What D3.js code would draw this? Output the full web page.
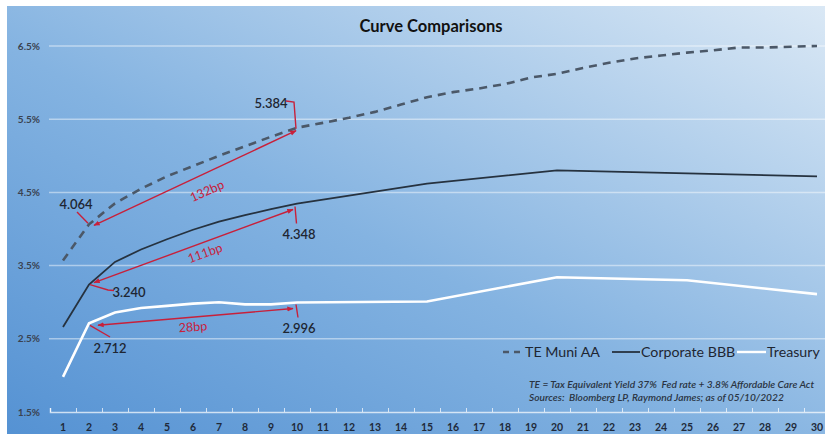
<!DOCTYPE html>
<html><head><meta charset="utf-8">
<script src="https://cdn.jsdelivr.net/npm/d3@7/dist/d3.min.js"></script>
<style>
html,body{margin:0;padding:0;background:#fff;}
svg{display:block;font-family:Lato,"Open Sans",sans-serif;}
</style></head>
<body>
<svg id="chart" width="825" height="438"></svg>
<script>
// ---- data ----
const years = [1,2,3,4,5,6,7,8,9,10,11,12,13,14,15,16,17,18,19,20,21,22,23,24,25,26,27,28,29,30];
const muniYears = years;
const muniValues = [3.57,4.064,4.35,4.55,4.72,4.86,5.00,5.13,5.26,5.384,5.45,5.52,5.60,5.70,5.80,5.87,5.92,5.98,6.07,6.12,6.20,6.27,6.33,6.37,6.41,6.44,6.48,6.48,6.49,6.50];
const corpYears = [1,2,3,4,5,6,7,8,9,10,15,20,25,30];
const corpValues = [2.66,3.240,3.55,3.72,3.86,3.99,4.10,4.19,4.27,4.348,4.62,4.80,4.76,4.72];
const tsyYears = [1,2,3,4,5,6,7,8,9,10,15,20,25,30];
const tsyValues = [1.98,2.712,2.86,2.92,2.95,2.98,3.00,2.97,2.97,2.996,3.01,3.34,3.30,3.11];
const yTicks = [1.5,2.5,3.5,4.5,5.5,6.5];
const seriesNames = ["TE Muni AA","Corporate BBB","Treasury"];
const spreadLabels = ["132bp","111bp","28bp"];
const footnotes = ["TE = Tax Equivalent Yield 37%  Fed rate + 3.8% Affordable Care Act",
                   "Sources:  Bloomberg LP, Raymond James; as of 05/10/2022"];
const title = "Curve Comparisons";

// ---- drawing ----
const svg = d3.select("#chart");
const W = 825, H = 438;
const defs = svg.append("defs");
const grad = defs.append("linearGradient").attr("id","bg")
  .attr("x1","0%").attr("y1","100%").attr("x2","100%").attr("y2","0%");
grad.append("stop").attr("offset","0%").attr("stop-color","#5592d3");
grad.append("stop").attr("offset","45%").attr("stop-color","#84b3e1");
grad.append("stop").attr("offset","100%").attr("stop-color","#dae8f5");

const red = "#c8203a";
const mk = (id, orient) => {
  defs.append("marker").attr("id",id).attr("viewBox","0 0 10 10")
    .attr("refX",9).attr("refY",5).attr("markerWidth",4.5).attr("markerHeight",4.5)
    .attr("orient",orient).attr("markerUnits","strokeWidth")
    .append("path").attr("d","M0,1 L10,5 L0,9 Z").attr("fill",red);
};
mk("arrEnd","auto"); mk("arrStart","auto-start-reverse");

svg.append("rect").attr("x",7).attr("y",6).attr("width",W-7).attr("height",428).attr("fill","url(#bg)");

const x = d3.scaleLinear().domain([0.5,30.5]).range([50,830]);
const y = d3.scaleLinear().domain([1.5,6.5]).range([412,46]);

// gridlines
svg.append("g").selectAll("line").data(yTicks.slice(1)).join("line")
  .attr("x1",49).attr("x2",W).attr("y1",d=>y(d)).attr("y2",d=>y(d))
  .attr("stroke","#ffffff").attr("stroke-opacity",0.45).attr("stroke-width",1.5);

// y labels
svg.append("g").selectAll("text").data(yTicks).join("text")
  .attr("x",40).attr("y",d=>y(d)+3.5).attr("text-anchor","end")
  .attr("font-size",10).attr("font-weight",700).attr("fill","#3a4250")
  .text(d=>d.toFixed(1)+"%");

// x axis
const xAxis = svg.append("g").attr("transform",`translate(0,${y(1.5)})`)
  .call(d3.axisTop(x).tickValues(d3.range(0.5,30.6,1)).tickSize(4).tickFormat(""));
xAxis.select(".domain").attr("stroke","#ffffff").attr("stroke-opacity",0.7).attr("stroke-width",1.5);
xAxis.selectAll(".tick line").attr("stroke","#ffffff").attr("stroke-opacity",0.7);
svg.append("g").selectAll("text").data(years).join("text")
  .attr("x",d=>x(d)).attr("y",431).attr("text-anchor","middle")
  .attr("font-size",10.5).attr("font-weight",700).attr("fill","#1f2a3a").text(d=>d);

// title
svg.append("text").attr("x",431).attr("y",32).attr("text-anchor","middle")
  .attr("font-size",16.5).attr("font-weight",700).attr("fill","#111").text(title);

// lines
const line = d3.line().x(d=>x(d[0])).y(d=>y(d[1]));
svg.append("path").datum(muniYears.map((d,i)=>[d,muniValues[i]])).attr("d",line)
  .attr("fill","none").attr("stroke","#4b5868").attr("stroke-width",2.6).attr("stroke-dasharray","8,6");
svg.append("path").datum(corpYears.map((d,i)=>[d,corpValues[i]])).attr("d",line)
  .attr("fill","none").attr("stroke","#26323f").attr("stroke-width",1.8);
svg.append("path").datum(tsyYears.map((d,i)=>[d,tsyValues[i]])).attr("d",line)
  .attr("fill","none").attr("stroke","#ffffff").attr("stroke-width",2.6);

// annotations
const ann = svg.append("g");
function arrow(x1,y1,x2,y2){
  ann.append("line").attr("x1",x1).attr("y1",y1).attr("x2",x2).attr("y2",y2)
    .attr("stroke",red).attr("stroke-width",1.4)
    .attr("marker-end","url(#arrEnd)").attr("marker-start","url(#arrStart)");
}
function lbl(t,cx,cy,rot){
  ann.append("text").attr("transform",`translate(${cx},${cy}) rotate(${rot})`)
    .attr("text-anchor","middle").attr("dy","0.35em").attr("font-size",12.5)
    .attr("fill",red).text(t);
}
function valTxt(v,cx,cy){
  ann.append("text").attr("x",cx).attr("y",cy).attr("text-anchor","middle").attr("dy","0.35em")
    .attr("font-size",13).attr("font-weight",600).attr("fill","#1e2632").text(v.toFixed(3));
}
function leader(pts){
  ann.append("polyline").attr("points",pts.map(p=>p.join(",")).join(" "))
    .attr("fill","none").attr("stroke",red).attr("stroke-width",1.4);
}
const m2 = muniValues[1], m10 = muniValues[9];
const c2 = corpValues[1], c10 = corpValues[9];
const t2 = tsyValues[1], t10 = tsyValues[9];

// 132bp
arrow(x(2)+5, y(m2)+1, x(10)-1, y(m10)+3);
lbl(spreadLabels[0], 207, 191, -24);
valTxt(m2, 76, 204);
leader([[77,212],[x(2)-1,y(m2)-1]]);
valTxt(m10, 271, 103);
leader([[286,101],[x(10)-3,102],[x(10)-1,y(m10)+1]]);

// 111bp
arrow(x(2)+5, y(c2)-2, x(10)-4, y(c10)+6);
lbl(spreadLabels[1], 205, 253, -20);
valTxt(c2, 129, 292);
leader([[x(2)+1,y(c2)],[108,290],[114,290.5]]);
valTxt(c10, 299, 234);
leader([[x(10)-2,y(c10)+3],[x(10)-0.5,y(c10)+20]]);

// 28bp
arrow(x(2)+9, y(t2)+2, x(10)-4, y(t10)+6);
lbl(spreadLabels[2], 193, 327, -4);
valTxt(t2, 110, 348);
leader([[x(2)+1,y(t2)+2],[110,337]]);
valTxt(t10, 299, 328);
leader([[x(10)-1,y(t10)+2],[x(10)+1,y(t10)+15]]);

// legend
const lg = svg.append("g").attr("font-size",14.2).attr("fill","#1e2632");
lg.append("line").attr("x1",503).attr("x2",523).attr("y1",352).attr("y2",352)
  .attr("stroke","#4b5868").attr("stroke-width",2.4).attr("stroke-dasharray","6,5");
lg.append("text").attr("x",525).attr("y",357).text(seriesNames[0]);
lg.append("line").attr("x1",612).attr("x2",640).attr("y1",352).attr("y2",352)
  .attr("stroke","#26323f").attr("stroke-width",1.8);
lg.append("text").attr("x",641).attr("y",357).text(seriesNames[1]);
lg.append("line").attr("x1",737).attr("x2",766).attr("y1",352).attr("y2",352)
  .attr("stroke","#ffffff").attr("stroke-width",2.4);
lg.append("text").attr("x",767).attr("y",357).text(seriesNames[2]);

// footnotes
svg.append("g").selectAll("text").data(footnotes).join("text")
  .attr("x",529).attr("y",(d,i)=>388+i*13).attr("font-size",10.2).attr("font-style","italic")
  .attr("font-weight",600).style("white-space","pre")
  .attr("fill","#2a3442").text(d=>d);
</script>
</body></html>
